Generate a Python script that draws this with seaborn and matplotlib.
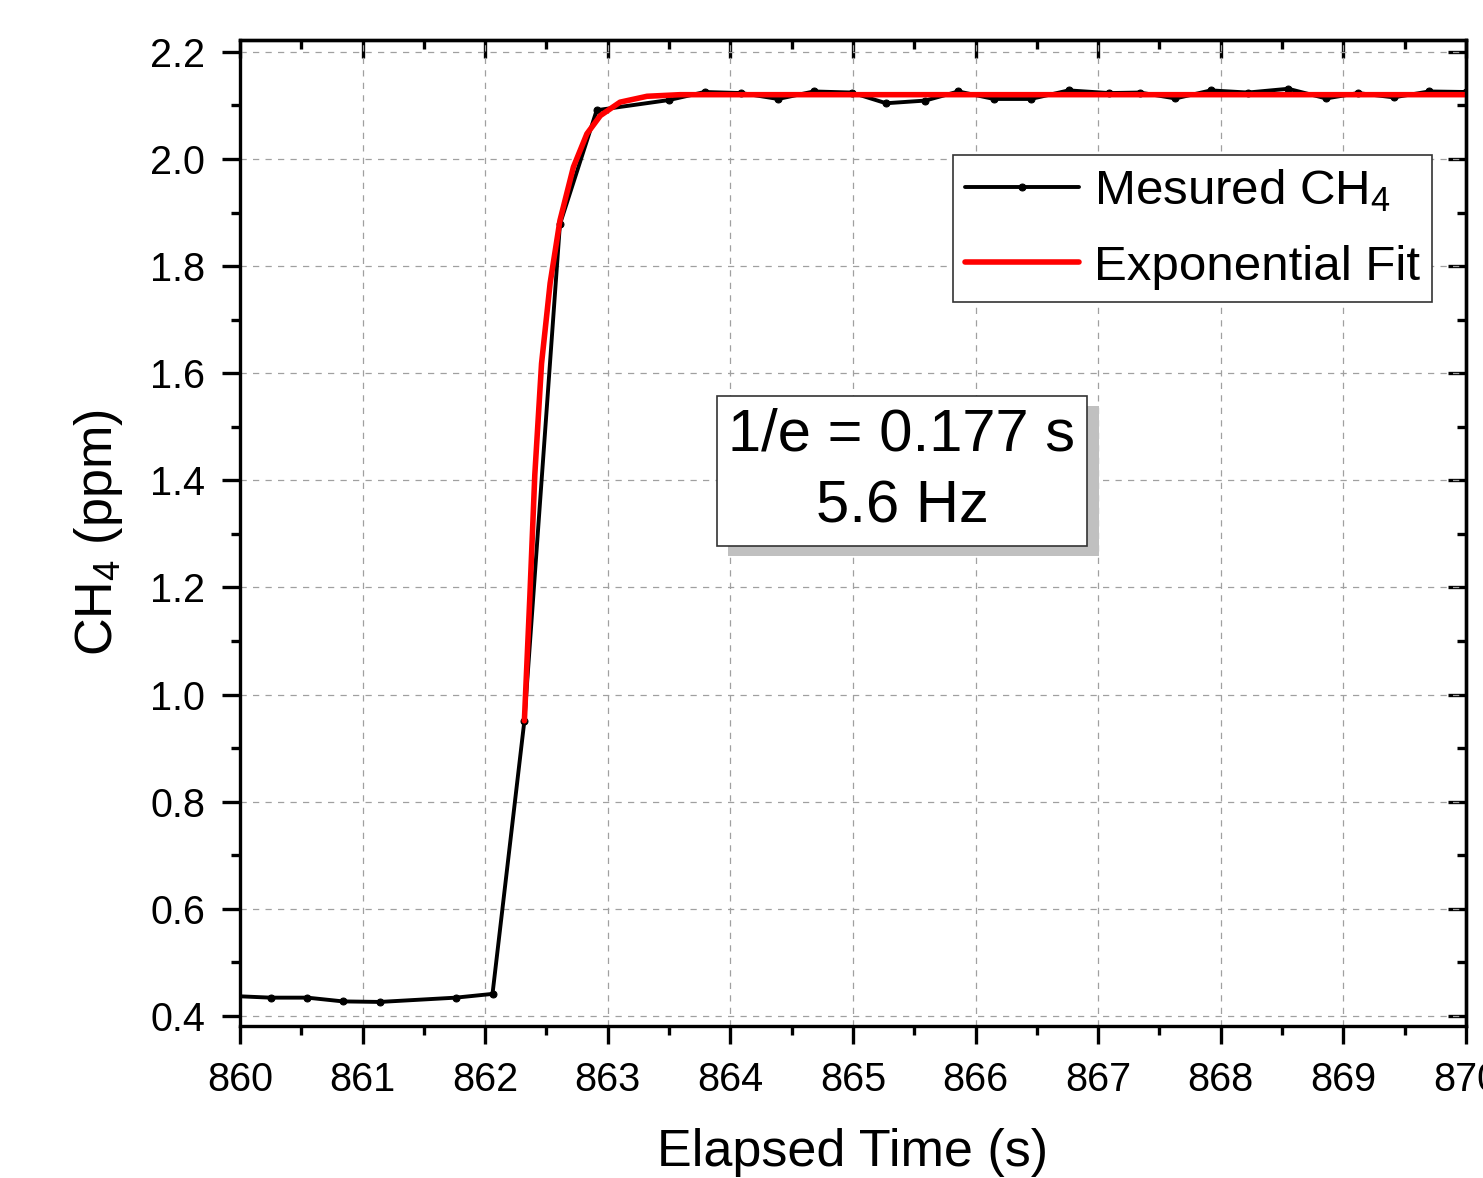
#!/usr/bin/env python3

import matplotlib
matplotlib.use("Agg")
import matplotlib.pyplot as plt
import matplotlib.patheffects as pe
from matplotlib.ticker import MultipleLocator
import pandas as pd
import seaborn as sns

meas_t = [859.95, 860.25, 860.55, 860.84, 861.14, 861.76, 862.06, 862.32,
          862.61, 862.91, 863.50, 863.79, 864.09, 864.39, 864.68, 864.99,
          865.27, 865.59, 865.86, 866.15, 866.45, 866.76, 867.09, 867.34,
          867.63, 867.92, 868.22, 868.55, 868.86, 869.12, 869.41, 869.70,
          870.00]
meas_ch4 = [0.437, 0.434, 0.434, 0.427, 0.426, 0.434, 0.441, 0.951,
            1.878, 2.091, 2.110, 2.125, 2.123, 2.112, 2.126, 2.124,
            2.104, 2.109, 2.126, 2.112, 2.112, 2.128, 2.123, 2.124,
            2.113, 2.128, 2.124, 2.131, 2.113, 2.123, 2.115, 2.126,
            2.125]

# Exponential fit curve
fit_t = [862.32, 862.365, 862.405, 862.46, 862.53, 862.61, 862.72, 862.83,
         862.94, 863.10, 863.32, 863.59, 870.00]
fit_ch4 = [0.951, 1.185, 1.410, 1.618, 1.768, 1.885, 1.985, 2.047,
           2.081, 2.106, 2.117, 2.120, 2.120]

x_ticks = [860, 861, 862, 863, 864, 865, 866, 867, 868, 869, 870]
y_ticks = [0.4, 0.6, 0.8, 1.0, 1.2, 1.4, 1.6, 1.8, 2.0, 2.2]

fit_text = "1/e = 0.177 s\n5.6 Hz"


def main():
    sns.set_style("ticks")
    plt.rcParams["font.family"] = ["Liberation Sans", "DejaVu Sans"]
    plt.rcParams["mathtext.fontset"] = "custom"
    plt.rcParams["mathtext.rm"] = "Liberation Sans"
    plt.rcParams["mathtext.it"] = "Liberation Sans:italic"
    for key in ("text.color", "axes.labelcolor", "xtick.color",
                "ytick.color", "axes.edgecolor"):
        plt.rcParams[key] = "black"

    fig = plt.figure(figsize=(14.83, 11.78), dpi=100)
    ax = fig.add_axes([0.1618, 0.129, 0.8267, 0.837])

    meas_df = pd.DataFrame({"t": meas_t, "ch4": meas_ch4})
    fit_df = pd.DataFrame({"t": fit_t, "ch4": fit_ch4})

    sns.lineplot(data=meas_df, x="t", y="ch4", ax=ax, color="black",
                 linewidth=2.8, marker="o", markersize=5,
                 markeredgecolor="black", estimator=None,
                 label="Mesured CH$_\\mathregular{4}$", zorder=3)
    sns.lineplot(data=fit_df, x="t", y="ch4", ax=ax, color="#ff0000",
                 linewidth=4.0, estimator=None, label="Exponential Fit",
                 zorder=4)

    ax.set_xlim(860, 870)
    ax.set_ylim(0.381, 2.222)
    ax.set_xticks(x_ticks)
    ax.set_yticks(y_ticks)
    ax.set_yticklabels([f"{v:.1f}" for v in y_ticks])
    ax.xaxis.set_minor_locator(MultipleLocator(0.5))
    ax.yaxis.set_minor_locator(MultipleLocator(0.1))

    ax.grid(True, which="major", color="#a0a0a0", linestyle=(0, (5, 5)),
            linewidth=0.9)

    for s in ax.spines.values():
        s.set_linewidth(2.4)
        s.set_visible(True)
        s.set_color("black")
        s.set_zorder(6)

    ax.tick_params(which="major", direction="out", length=13, width=2.4,
                   labelsize=28.5, pad=12, colors="black")
    ax.tick_params(which="minor", direction="out", length=6.5, width=2.4,
                   colors="black")

    # inward ticks on top and right
    top = ax.secondary_xaxis("top")
    top.set_xticks(x_ticks)
    top.xaxis.set_minor_locator(MultipleLocator(0.5))
    top.tick_params(which="major", direction="in", length=13, width=2.4,
                    labeltop=False)
    top.tick_params(which="minor", direction="in", length=6.5, width=2.4)
    right = ax.secondary_yaxis("right")
    right.set_yticks(y_ticks)
    right.yaxis.set_minor_locator(MultipleLocator(0.1))
    right.tick_params(which="major", direction="in", length=13, width=2.4,
                      labelright=False)
    right.tick_params(which="minor", direction="in", length=6.5, width=2.4)
    for sec in (top, right):
        for s in sec.spines.values():
            s.set_linewidth(2.4)
            s.set_color("black")

    ax.set_xlabel("Elapsed Time (s)", fontsize=37.5, labelpad=21)
    ax.set_ylabel("CH$_\\mathregular{4}$ (ppm)", fontsize=37.5, labelpad=18)

    leg = ax.legend(loc="upper left", bbox_to_anchor=(0.5816, 0.8834),
                    borderaxespad=0, fontsize=35.5, handlelength=2.3,
                    handletextpad=0.3, borderpad=0.25, labelspacing=0.62,
                    fancybox=False, framealpha=1, edgecolor="#333333")
    leg.get_frame().set_linewidth(1.2)
    for t in leg.get_texts():
        t.set_color("black")

    txt = ax.text(865.40, 1.4176, fit_text, fontsize=43, ha="center",
                  va="center", multialignment="center", linespacing=1.38,
                  zorder=7, color="black",
                  bbox=dict(boxstyle="square,pad=0.2", facecolor="white",
                            edgecolor="#333333", linewidth=1.2))
    fig.canvas.draw()
    txt.get_bbox_patch().set_path_effects([
        pe.SimplePatchShadow(offset=(8.6, -7.2), shadow_rgbFace="#c0c0c0",
                             alpha=1.0),
        pe.Normal(),
    ])

    fig.savefig("out.png", dpi=100)
    plt.close(fig)


if __name__ == "__main__":
    main()
